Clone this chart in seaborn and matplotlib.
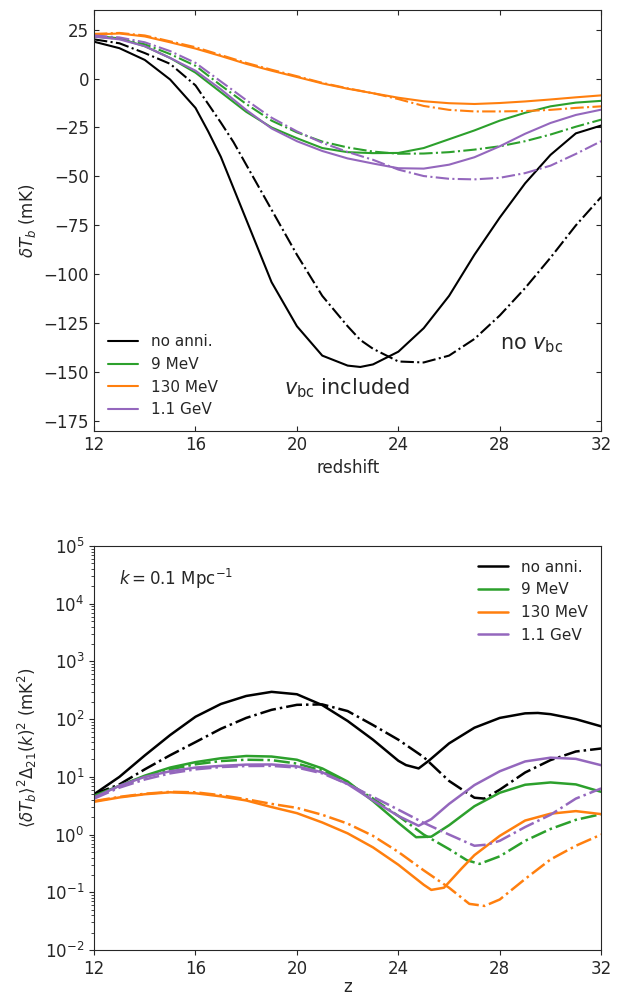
import numpy as np
import matplotlib
matplotlib.use("Agg")
import matplotlib.pyplot as plt
import seaborn as sns

# ---- top panel: brightness temperature (mK) ----
z_int = list(range(12, 33))
z_black = [12, 13, 14, 15, 16, 16.5, 17, 17.5, 18, 19, 20, 21, 22, 22.5, 23, 24, 25, 26, 27, 28, 29, 30, 31, 32]

T_noann_vbc = [18.8, 15.5, 9.5, -0.5, -15, -27, -40, -56, -72, -104, -126.5, -141.5, -146.6, -147.3,
               -146, -139.5, -127.5, -111, -90, -71, -53.5, -39, -28, -24]
T_noann_novbc = [20, 18, 13, 7.5, -3.5, -13, -22.5, -32.5, -44, -67, -90, -111, -126.5, -133.5,
                 -138, -144.5, -145, -141.5, -133, -121, -107, -91.5, -75, -60.5]

T_9mev_vbc = [21.9, 20.5, 16.5, 10.5, 3, -7, -17, -25, -30.5, -35.5, -37.6, -38.1, -38, -35.5,
              -31, -26.5, -21.5, -17.5, -14.2, -12.3, -11.4]
T_9mev_novbc = [21.4, 20.3, 17.5, 12.5, 6.5, -3.5, -13, -21.5, -27.5, -32.2, -35.2, -37.3, -38.4, -38.3,
                -37.6, -36.3, -34.6, -32, -28.6, -24.6, -21]
T_130mev_vbc = [22.5, 23, 21.5, 18.5, 15.3, 11.5, 7.5, 4, 0.8, -2.5, -5.2, -7.5, -9.8, -11.6,
                -12.6, -13, -12.5, -11.7, -10.7, -9.6, -8.6]
T_130mev_novbc = [22.8, 23.3, 22, 19, 16, 12, 8, 4.5, 1.2, -2.2, -5, -7.5, -10.5, -14,
                  -16, -16.8, -16.8, -16.6, -16, -15, -14.2]
T_11gev_vbc = [21.4, 20, 16.5, 10.5, 4, -5.5, -16, -25.5, -32, -37, -40.8, -43.4, -45.8, -46,
               -44, -40.2, -34.6, -28.2, -22.7, -18.6, -15.9]
T_11gev_novbc = [22, 21, 18.5, 14, 8, -1.5, -11, -20, -27, -32.8, -37.5, -41.5, -46.5, -49.8,
                 -51.2, -51.5, -50.7, -48.3, -44.5, -38.5, -32]

# ---- bottom panel: power spectrum at k = 0.1 / Mpc (mK^2) ----
zp_noann_vbc = [12, 13, 14, 15, 16, 17, 18, 19, 20, 21, 22, 23, 24, 24.3, 24.8, 25.2, 26, 27, 28, 29, 29.5, 30, 31, 32]
P_noann_vbc = [5.0, 10, 23.5, 53, 110, 183, 252, 297, 270, 175, 93, 44, 19, 16, 14, 19, 38, 71, 105, 126, 128, 122, 100, 75]
zp_noann_novbc = [12, 13, 14, 15, 16, 17, 18, 19, 20, 21, 22, 23, 24, 25, 26, 27, 27.4, 28, 29, 30, 31, 32]
P_noann_novbc = [5.0, 7.4, 13.5, 23.7, 40, 68, 105, 145, 177, 180, 138, 79, 44, 22, 8.5, 4.35, 4.2, 6, 11.9, 19.5, 27.5, 31]

zp_9mev_vbc = [12, 13, 14, 15, 16, 17, 18, 19, 20, 21, 22, 23, 24, 24.7, 25.3, 26, 27, 28, 29, 30, 31, 32]
P_9mev_vbc = [4.7, 7, 10.5, 14.5, 18, 21, 23, 22.5, 19.8, 14, 8.3, 3.8, 1.6, 0.9, 0.92, 1.45, 3.1, 5.3, 7.3, 8.0, 7.4, 5.5]
zp_9mev_novbc = [12, 13, 14, 15, 16, 17, 18, 19, 20, 21, 22, 23, 24, 25, 26, 26.7, 27.2, 28, 29, 30, 31, 32]
P_9mev_novbc = [4.5, 6.8, 10, 13.5, 16.5, 18.8, 19.8, 19.5, 17, 12.8, 7.8, 4.2, 2.1, 1.0, 0.56, 0.36, 0.31, 0.42, 0.78, 1.25, 1.8, 2.26]

zp_130mev_vbc = [12, 13, 14, 15, 16, 17, 18, 19, 20, 21, 22, 23, 24, 25, 25.3, 25.8, 26.5, 27, 28, 29, 30, 31, 32]
P_130mev_vbc = [3.7, 4.4, 5.0, 5.4, 5.2, 4.6, 3.9, 3.0, 2.35, 1.62, 1.05, 0.6, 0.3, 0.135, 0.11, 0.12, 0.26, 0.44, 0.95, 1.75, 2.3, 2.55, 2.26]
zp_130mev_novbc = [12, 13, 14, 15, 16, 17, 18, 19, 20, 21, 22, 23, 24, 25, 26, 26.8, 27.4, 28, 29, 30, 31, 32]
P_130mev_novbc = [3.8, 4.5, 5.1, 5.5, 5.4, 4.8, 4.1, 3.4, 2.9, 2.2, 1.55, 0.95, 0.5, 0.24, 0.12, 0.063, 0.058, 0.075, 0.17, 0.37, 0.64, 1.0]

zp_11gev_vbc = [12, 13, 14, 15, 16, 17, 18, 19, 20, 21, 22, 23, 24, 24.8, 25.3, 26, 27, 28, 29, 30, 31, 32]
P_11gev_vbc = [4.4, 7, 10, 12.5, 14.5, 15.5, 16.3, 16.4, 15.2, 12, 7.5, 3.9, 2.1, 1.42, 1.85, 3.4, 7.2, 12.5, 18.5, 21.5, 20.5, 15.9]
zp_11gev_novbc = [12, 13, 14, 15, 16, 17, 18, 19, 20, 21, 22, 23, 24, 25, 26, 27, 27.5, 28, 29, 30, 31, 32]
P_11gev_novbc = [4.2, 6.5, 9, 11.5, 13.5, 14.8, 15.4, 15.5, 14.5, 11.5, 7.5, 4.5, 2.7, 1.6, 1.0, 0.64, 0.67, 0.78, 1.35, 2.2, 4.2, 6.3]

labels = ['no anni.', '9 MeV', '130 MeV', '1.1 GeV']
colors = ['black', 'tab:green', 'tab:orange', 'tab:purple']

sns.set_style('ticks')
plt.rcParams['font.family'] = ['DejaVu Sans']
plt.rcParams['mathtext.fontset'] = 'dejavusans'

fig = plt.figure(figsize=(6.23, 10), dpi=100)
ax1 = fig.add_axes([0.151, 0.569, 0.814, 0.421])
ax2 = fig.add_axes([0.151, 0.05, 0.814, 0.404])

lw = 1.5

top_sets = [
    (z_black, T_noann_vbc, z_black, T_noann_novbc),
    (z_int, T_9mev_vbc, z_int, T_9mev_novbc),
    (z_int, T_130mev_vbc, z_int, T_130mev_novbc),
    (z_int, T_11gev_vbc, z_int, T_11gev_novbc),
]
for (za, ya, zb, yb), lab, c in zip(top_sets, labels, colors):
    sns.lineplot(x=za, y=ya, ax=ax1, color=c, lw=lw, label=lab)
    sns.lineplot(x=zb, y=yb, ax=ax1, color=c, lw=lw, ls='-.')

ax1.set_xlim(12, 32)
ax1.set_ylim(-180, 35)
ax1.set_xticks([12, 16, 20, 24, 28, 32])
ax1.set_yticks([25, 0, -25, -50, -75, -100, -125, -150, -175])
ax1.tick_params(direction='in', top=True, right=True, labelsize=12)
ax1.set_xlabel('redshift', fontsize=12)
ax1.set_ylabel(r'$\delta T_b$ (mK)', fontsize=12)
ax1.legend(loc='lower left', frameon=False, fontsize=11)
ax1.text(28, -136, r'no $v_{\rm bc}$', fontsize=15, va='center')
ax1.text(19.5, -158, r'$v_{\rm bc}$ included', fontsize=15, va='center')

bot_sets = [
    (zp_noann_vbc, P_noann_vbc, zp_noann_novbc, P_noann_novbc),
    (zp_9mev_vbc, P_9mev_vbc, zp_9mev_novbc, P_9mev_novbc),
    (zp_130mev_vbc, P_130mev_vbc, zp_130mev_novbc, P_130mev_novbc),
    (zp_11gev_vbc, P_11gev_vbc, zp_11gev_novbc, P_11gev_novbc),
]
for (za, ya, zb, yb), lab, c in zip(bot_sets, labels, colors):
    sns.lineplot(x=za, y=ya, ax=ax2, color=c, lw=lw + 0.3, label=lab)
    sns.lineplot(x=zb, y=yb, ax=ax2, color=c, lw=lw + 0.3, ls='-.')

ax2.set_yscale('log')
ax2.set_xlim(12, 32)
ax2.set_ylim(1e-2, 1e5)
ax2.set_xticks([12, 16, 20, 24, 28, 32])
ax2.yaxis.set_major_locator(matplotlib.ticker.LogLocator(base=10, numticks=20))
ax2.yaxis.set_minor_locator(matplotlib.ticker.LogLocator(base=10, subs=np.arange(2, 10), numticks=20))
ax2.yaxis.set_minor_formatter(matplotlib.ticker.NullFormatter())
ax2.tick_params(direction='out', labelsize=12)
ax2.set_xlabel('z', fontsize=12, labelpad=0)
ax2.set_ylabel(r'$\langle\delta T_b\rangle^2\Delta_{21}(k)^2$ (mK$^2$)', fontsize=12)
ax2.legend(loc='upper right', frameon=False, fontsize=11)
ax2.text(13, 2.7e4, r'$k = 0.1\ {\rm Mpc}^{-1}$', fontsize=12, va='center')

fig.savefig('out.png', dpi=100)
